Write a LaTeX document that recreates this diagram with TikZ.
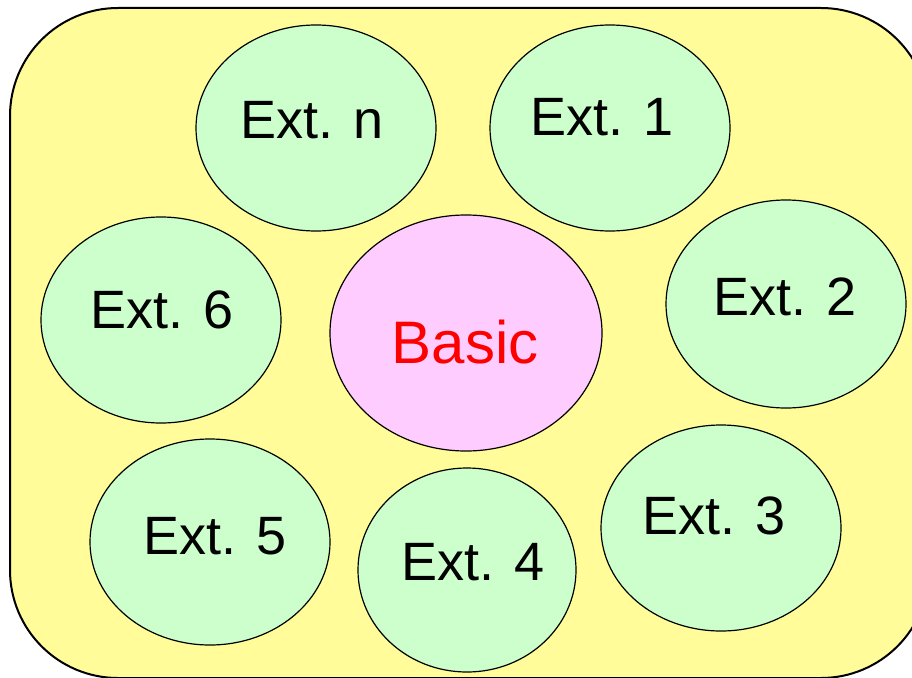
\documentclass[tikz,border=0pt]{standalone}
\usepackage{fontspec}
\setmainfont{Liberation Sans}
\usetikzlibrary{shapes.geometric}
\definecolor{bgyellow}{HTML}{FFFC99}
\definecolor{extgreen}{HTML}{CCFFCC}
\definecolor{basicpink}{HTML}{FFCCFF}
\tikzset{
  ext/.style={ellipse, draw=black, line width=1.2pt, fill=extgreen, inner sep=0pt},
  core/.style={ellipse, draw=black, line width=1.2pt, fill=basicpink, inner sep=0pt},
  lbl/.style={anchor=base, inner sep=0pt, font=\fontsize{54}{60}\selectfont},
  corelbl/.style={anchor=base, inner sep=0pt, text=red, font=\fontsize{60}{66}\selectfont}
}
\begin{document}
\begin{tikzpicture}[x=1pt,y=-1pt]
\useasboundingbox (0,0) rectangle (912,677);
\clip (0,0) rectangle (912,677);
\draw[fill=bgyellow, line width=2pt, rounded corners=108pt] (10,8) rectangle (929,678);
% ellipses
\node[ext, minimum width=240pt, minimum height=206pt] (en) at (316,128) {};
\node[ext, minimum width=240pt, minimum height=206pt] (e1) at (610,128) {};
\node[ext, minimum width=240pt, minimum height=206pt] (e6) at (161,320) {};
\node[core, minimum width=272pt, minimum height=236pt] (basic) at (466,333) {};
\node[ext, minimum width=240pt, minimum height=208pt] (e2) at (786,304) {};
\node[ext, minimum width=240pt, minimum height=206pt] (e5) at (210,542) {};
\node[ext, minimum width=218pt, minimum height=204pt] (e4) at (467,570) {};
\node[ext, minimum width=240pt, minimum height=206pt] (e3) at (721,528) {};
% labels
\node[lbl] (tn) at (312,138) {Ext. n};
\node[lbl] (t1) at (602,135) {Ext. 1};
\node[lbl] (t6) at (162,328) {Ext. 6};
\node[lbl] (t2) at (785,315) {Ext. 2};
\node[lbl] (t5) at (215,554) {Ext. 5};
\node[lbl] (t4) at (473,580) {Ext. 4};
\node[lbl] (t3) at (714,534) {Ext. 3};
\node[corelbl] (tb) at (465,363) {Basic};
\end{tikzpicture}
\end{document}
